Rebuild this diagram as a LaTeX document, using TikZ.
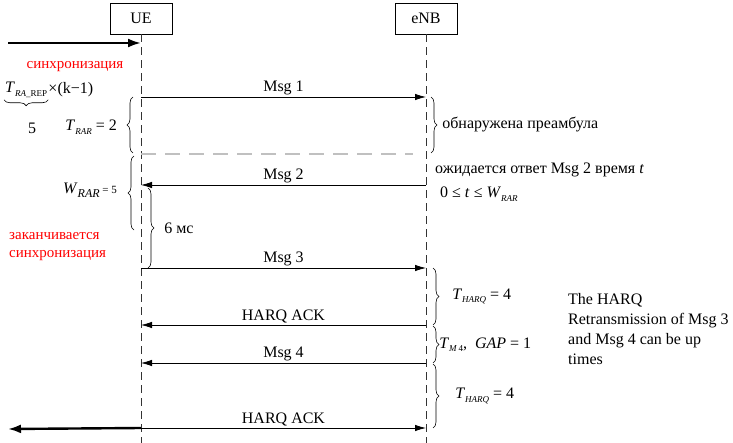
\documentclass[tikz,border=0pt]{standalone}
\usepackage{fontspec}
\setmainfont{Liberation Serif}
\usetikzlibrary{arrows.meta, positioning, decorations.pathreplacing}
\definecolor{seqInk}{HTML}{000000}
\definecolor{seqRed}{HTML}{FF0000}
\definecolor{seqGrey}{HTML}{C0C0C0}

% italic symbol with a lowered small index, set in the text font
\newcommand{\idx}[2]{\textit{#1}\raisebox{-3.5pt}{\fontsize{9}{9}\selectfont #2}}

\begin{document}
\begin{tikzpicture}[
  x=1pt, y=-1pt,
  font=\fontsize{16}{18}\selectfont,
  lifebox/.style={draw=seqInk, line width=0.6pt, minimum width=62pt,
                  minimum height=31pt, inner sep=0pt},
  lifeline/.style={draw=seqInk!80, line width=0.7pt, dash pattern=on 8pt off 5pt},
  msg/.style={draw=seqInk, line width=0.8pt, -{Latex[length=11pt,width=6.5pt]}},
  fat/.style={draw=seqInk, line width=2.4pt, -{Latex[length=13pt,width=9pt]}},
  mlbl/.style={inner sep=1.5pt, above},
  brc/.style={decorate, decoration={brace, amplitude=6pt}, line width=0.6pt},
  lbl/.style={inner sep=1pt},
  redlbl/.style={inner sep=1pt, text=seqRed, font=\fontsize{15}{18}\selectfont},
]
\useasboundingbox (0,0) rectangle (733,443);

% lifelines
\node[lifebox] (ue)  at (141,18.5) {UE};
\node[lifebox] (enb) at (426,18.5) {eNB};
\coordinate (ueEnd)  at (141,443);
\coordinate (enbEnd) at (426,443);
\draw[lifeline] (ue.south) -- (ueEnd);
\draw[lifeline] (enb.south) -- (enbEnd);

% points where the messages meet the lifelines
\foreach \n/\y in {m1/97, m2/185, m3/268, ackA/325, m4/363, ackB/428} {
  \coordinate (ue-\n) at (141,\y);
  \coordinate (enb-\n) at (426,\y);}

% ========================= synchronisation ===================================
\coordinate (syncIn) at (8,43);
\draw[fat] (syncIn) -- (ue.south |- syncIn);
\node[redlbl] (sync) at (75,67) {синхронизация};
\node[lbl, anchor=west] (trep) at (4,90) {\idx{T}{\textit{RA}\_REP}};
\node[lbl, anchor=west, inner sep=0pt] (tk) at (trep.east) {×(k−1)};
\draw[brc] ([yshift=-1pt]trep.south east) -- ([yshift=-1pt]trep.south west);
\node[lbl] (five) at (32,128) {5};
\node[lbl, anchor=east] (trar) at (118,127) {\idx{T}{\textit{RAR}} = 2};

% ========================= messages ==========================================
\draw[msg] (ue-m1) -- node[mlbl] {Msg 1} (enb-m1);
\draw[msg] (enb-m2) -- node[mlbl] {Msg 2} (ue-m2);
\draw[msg] (ue-m3) -- node[mlbl] {Msg 3} (enb-m3);
\draw[msg] (enb-ackA) -- node[mlbl] {HARQ ACK} (ue-ackA);
\draw[msg] (enb-m4) -- node[mlbl] {Msg 4} (ue-m4);
\draw[msg] (ue-ackB) -- node[mlbl] {HARQ ACK} (enb-ackB);
\coordinate (syncOut) at (8,429);
\draw[fat] (ue-ackB) -- (syncOut);

% end of the preamble detection window
\coordinate (winA) at (141,154);
\coordinate (winB) at (413,154);
\draw[draw=seqGrey, line width=1.6pt, dash pattern=on 15pt off 9pt] (winA) -- (winB);

% ========================= braces ============================================
\draw[brc] (133,153) -- (133,97);
\draw[brc] (431,97) -- node[lbl, anchor=west, xshift=10pt] {обнаружена преамбула} (431,153);
\draw[brc] (134,230) -- (134,156);
\node[lbl, anchor=east] (wrar) at (118,190)
  {\textit{W}\raisebox{-4pt}{\fontsize{12}{12}\selectfont\textit{RAR}}\,\fontsize{11}{12}\selectfont = 5};
\draw[brc] (148,188) -- node[lbl, anchor=west, xshift=15pt] {6 мс} (148,268);
\node[redlbl, anchor=west, align=left] (syncEnd) at (8,247)
  {заканчивается\\синхронизация};

\node[lbl, anchor=west] (wait) at (434,170) {ожидается ответ Msg 2 время \textit{t}};
\node[lbl, anchor=west] (tcond) at (439,194) {0 ≤ \textit{t} ≤ \idx{W}{\textit{RAR}}};

\draw[brc] (433,268) -- node[lbl, anchor=west, xshift=18pt] {\idx{T}{\textit{HARQ}}\ = 4} (433,325);
\draw[brc] (433,326) -- node[lbl, anchor=west, xshift=5pt] {\idx{T}{\textit{M}\,4}, \ \textit{GAP} = 1} (433,363);
\draw[brc] (433,364) -- node[lbl, anchor=west, xshift=21pt] {\idx{T}{\textit{HARQ}}\ = 4} (433,428);

\node[lbl, anchor=north west, align=left, font=\fontsize{16}{20}\selectfont] (note) at (567,292)
  {The HARQ\\Retransmission of Msg 3\\and Msg 4 can be up\\times};
\end{tikzpicture}
\end{document}
